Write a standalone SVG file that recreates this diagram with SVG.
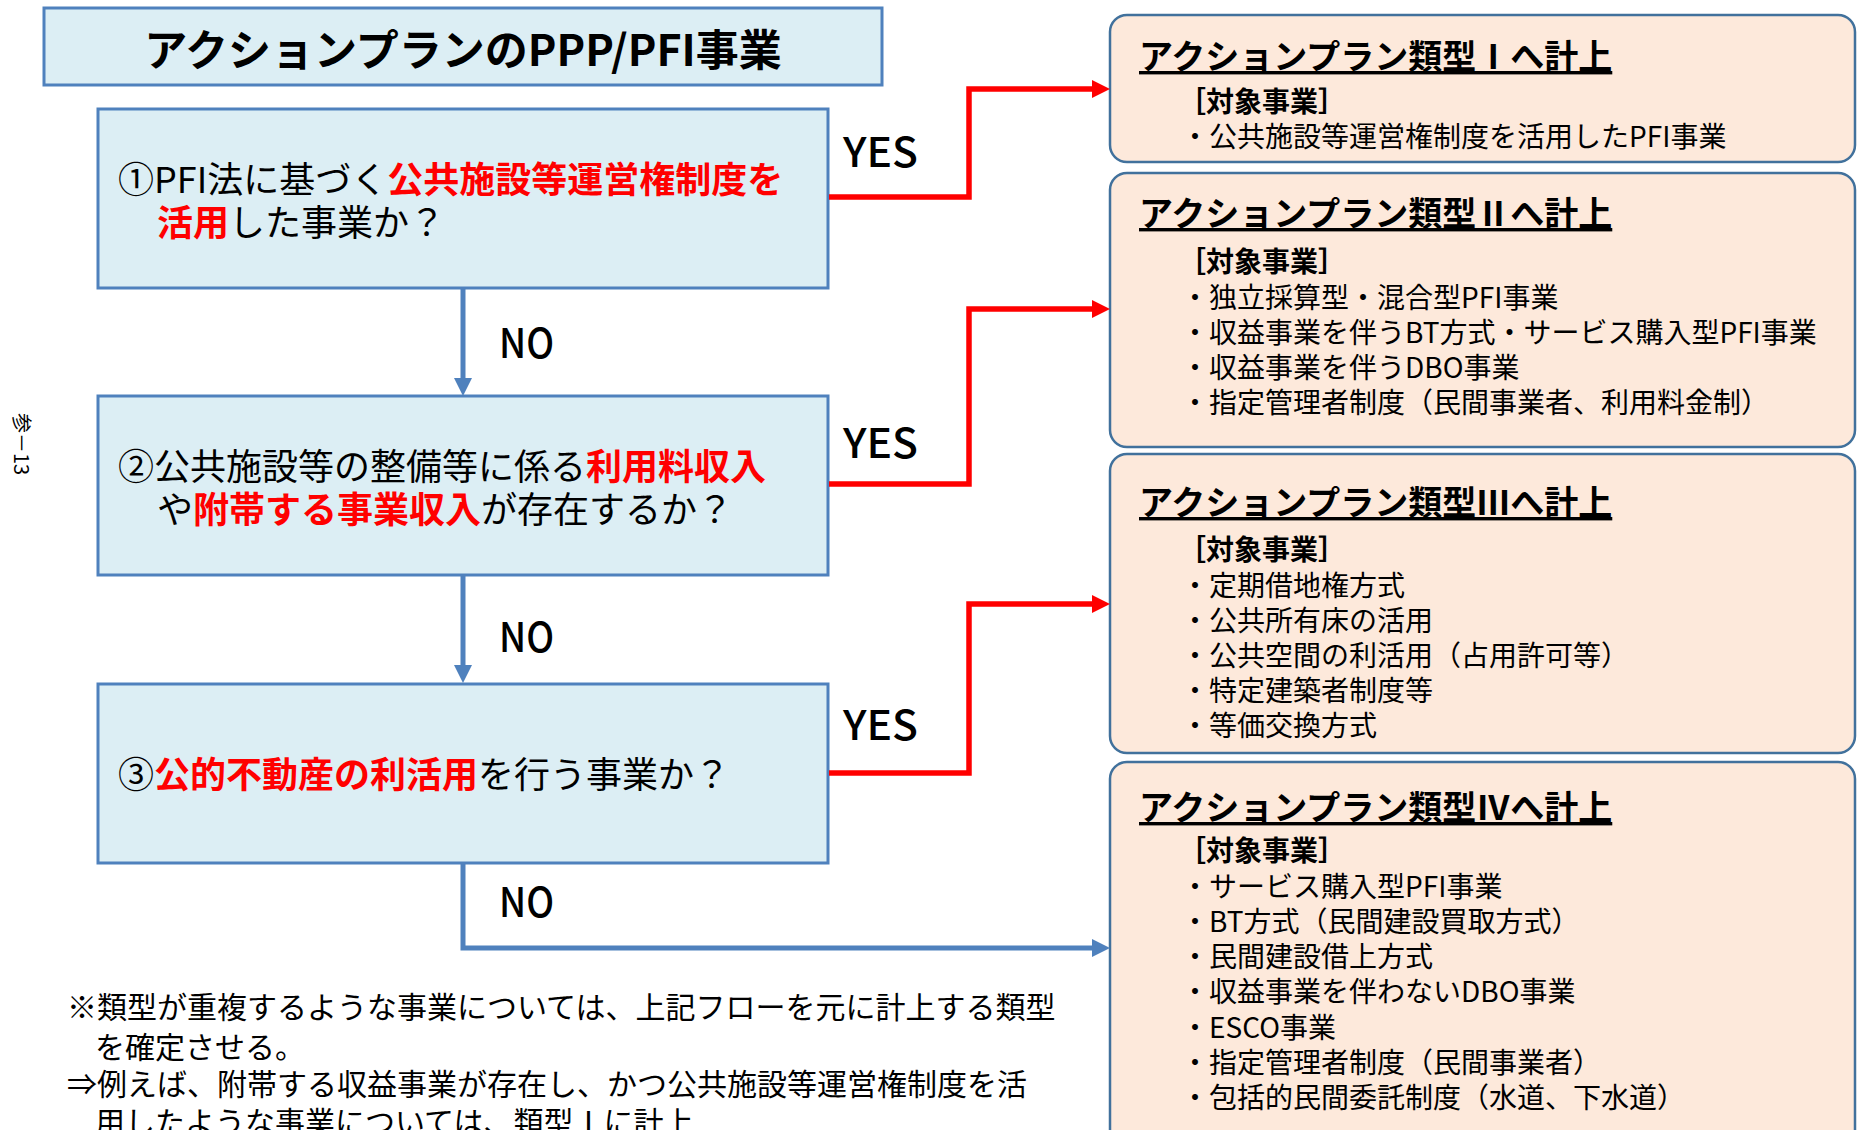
<svg xmlns="http://www.w3.org/2000/svg" width="1857" height="1130" viewBox="0 0 1857 1130">
  <defs>
    <style>
      .jp { font-family: "Noto Sans CJK JP", "Noto Sans CJK SC", sans-serif; }
      .qbox { fill: #DCEEF4; stroke: #4F81BD; stroke-width: 3; }
      .rbox { fill: #FDE9DB; stroke: #41719C; stroke-width: 2.5; }
      .q { font-size: 36px; fill: #000; }
      .hl { fill: #FF0000; font-weight: 700; }
      .yn { font-size: 41px; font-weight: 500; fill: #000; }
      .rt { font-size: 34px; font-weight: 700; fill: #000; text-decoration: underline; }
      .rh { font-size: 28px; font-weight: 700; fill: #000; }
      .ri { font-size: 28px; fill: #000; }
      .note { font-size: 30px; fill: #000; }
      .blue { fill: none; stroke: #4F81BD; stroke-width: 5; }
      .red { fill: none; stroke: #FF0000; stroke-width: 5.5; }
    </style>
    <marker id="ab" viewBox="0 0 18 18" refX="8" refY="9" markerWidth="18" markerHeight="18" markerUnits="userSpaceOnUse" orient="auto">
      <path d="M0,0 L18,9 L0,18 z" fill="#4F81BD"/>
    </marker>
    <marker id="ar" viewBox="0 0 18 18" refX="8" refY="9" markerWidth="18" markerHeight="18" markerUnits="userSpaceOnUse" orient="auto">
      <path d="M0,0 L18,9 L0,18 z" fill="#FF0000"/>
    </marker>
  </defs>

  <rect width="1857" height="1130" fill="#FFFFFF"/>

  <g id="page-label">
    <text class="jp" font-size="20" fill="#000" transform="translate(14,413) rotate(90)">参－13</text>
  </g>

  <g id="title">
    <rect class="qbox" x="44" y="8" width="838" height="77"/>
    <text class="jp" x="463" y="66" font-size="43" font-weight="700" text-anchor="middle">アクションプランのPPP/PFI事業</text>
  </g>

  <g id="q1">
    <rect class="qbox" x="98" y="109" width="730" height="179"/>
    <text class="jp q" x="118" y="193">①PFI法に基づく<tspan class="hl">公共施設等運営権制度を</tspan></text>
    <text class="jp q" x="157" y="236"><tspan class="hl">活用</tspan>した事業か？</text>
  </g>

  <g id="q2">
    <rect class="qbox" x="98" y="396" width="730" height="179"/>
    <text class="jp q" x="118" y="480">②公共施設等の整備等に係る<tspan class="hl">利用料収入</tspan></text>
    <text class="jp q" x="157" y="523">や<tspan class="hl">附帯する事業収入</tspan>が存在するか？</text>
  </g>

  <g id="q3">
    <rect class="qbox" x="98" y="684" width="730" height="179"/>
    <text class="jp q" x="118" y="788">③<tspan class="hl">公的不動産の利活用</tspan>を行う事業か？</text>
  </g>

  <g id="type1">
    <rect class="rbox" x="1110" y="15" width="745" height="147" rx="17"/>
    <text class="jp rt" x="1139" y="69">アクションプラン類型Ⅰへ計上</text>
    <text class="jp rh" x="1178" y="112">［対象事業］</text>
    <text class="jp ri" x="1181" y="147">・公共施設等運営権制度を活用したPFI事業</text>
  </g>

  <g id="type2">
    <rect class="rbox" x="1110" y="173" width="745" height="274" rx="17"/>
    <text class="jp rt" x="1139" y="226">アクションプラン類型Ⅱへ計上</text>
    <text class="jp rh" x="1178" y="272">［対象事業］</text>
    <text class="jp ri" x="1181" y="308">・独立採算型・混合型PFI事業</text>
    <text class="jp ri" x="1181" y="343">・収益事業を伴うBT方式・サービス購入型PFI事業</text>
    <text class="jp ri" x="1181" y="378">・収益事業を伴うDBO事業</text>
    <text class="jp ri" x="1181" y="413">・指定管理者制度（民間事業者、利用料金制）</text>
  </g>

  <g id="type3">
    <rect class="rbox" x="1110" y="454" width="745" height="299" rx="17"/>
    <text class="jp rt" x="1139" y="515">アクションプラン類型Ⅲへ計上</text>
    <text class="jp rh" x="1178" y="560">［対象事業］</text>
    <text class="jp ri" x="1181" y="596">・定期借地権方式</text>
    <text class="jp ri" x="1181" y="631">・公共所有床の活用</text>
    <text class="jp ri" x="1181" y="666">・公共空間の利活用（占用許可等）</text>
    <text class="jp ri" x="1181" y="701">・特定建築者制度等</text>
    <text class="jp ri" x="1181" y="736">・等価交換方式</text>
  </g>

  <g id="type4">
    <rect class="rbox" x="1110" y="762" width="745" height="400" rx="17"/>
    <text class="jp rt" x="1139" y="820">アクションプラン類型Ⅳへ計上</text>
    <text class="jp rh" x="1178" y="861">［対象事業］</text>
    <text class="jp ri" x="1181" y="897">・サービス購入型PFI事業</text>
    <text class="jp ri" x="1181" y="932">・BT方式（民間建設買取方式）</text>
    <text class="jp ri" x="1181" y="967">・民間建設借上方式</text>
    <text class="jp ri" x="1181" y="1002">・収益事業を伴わないDBO事業</text>
    <text class="jp ri" x="1181" y="1038">・ESCO事業</text>
    <text class="jp ri" x="1181" y="1073">・指定管理者制度（民間事業者）</text>
    <text class="jp ri" x="1181" y="1108">・包括的民間委託制度（水道、下水道）</text>
  </g>

  <g id="connectors">
    <path class="blue" d="M463,288 V386" marker-end="url(#ab)"/>
    <path class="blue" d="M463,576 V673" marker-end="url(#ab)"/>
    <path class="blue" d="M463,864 V948 H1100" marker-end="url(#ab)"/>
    <path class="red" d="M829,197 H969 V89 H1100" marker-end="url(#ar)"/>
    <path class="red" d="M829,484 H969 V309 H1100" marker-end="url(#ar)"/>
    <path class="red" d="M829,773 H969 V604 H1100" marker-end="url(#ar)"/>
    <text class="jp yn" x="843" y="167" textLength="75" lengthAdjust="spacingAndGlyphs">YES</text>
    <text class="jp yn" x="843" y="458" textLength="75" lengthAdjust="spacingAndGlyphs">YES</text>
    <text class="jp yn" x="843" y="740" textLength="75" lengthAdjust="spacingAndGlyphs">YES</text>
    <text class="jp yn" x="499" y="358" textLength="55" lengthAdjust="spacingAndGlyphs">NO</text>
    <text class="jp yn" x="499" y="652" textLength="55" lengthAdjust="spacingAndGlyphs">NO</text>
    <text class="jp yn" x="499" y="917" textLength="55" lengthAdjust="spacingAndGlyphs">NO</text>
  </g>

  <g id="note">
    <text class="jp note" x="67" y="1018">※類型が重複するような事業については、上記フローを元に計上する類型</text>
    <text class="jp note" x="95" y="1058">を確定させる。</text>
    <text class="jp note" x="67" y="1095">⇒例えば、附帯する収益事業が存在し、かつ公共施設等運営権制度を活</text>
    <text class="jp note" x="95" y="1133">用したような事業については、類型Ⅰに計上</text>
  </g>
</svg>
